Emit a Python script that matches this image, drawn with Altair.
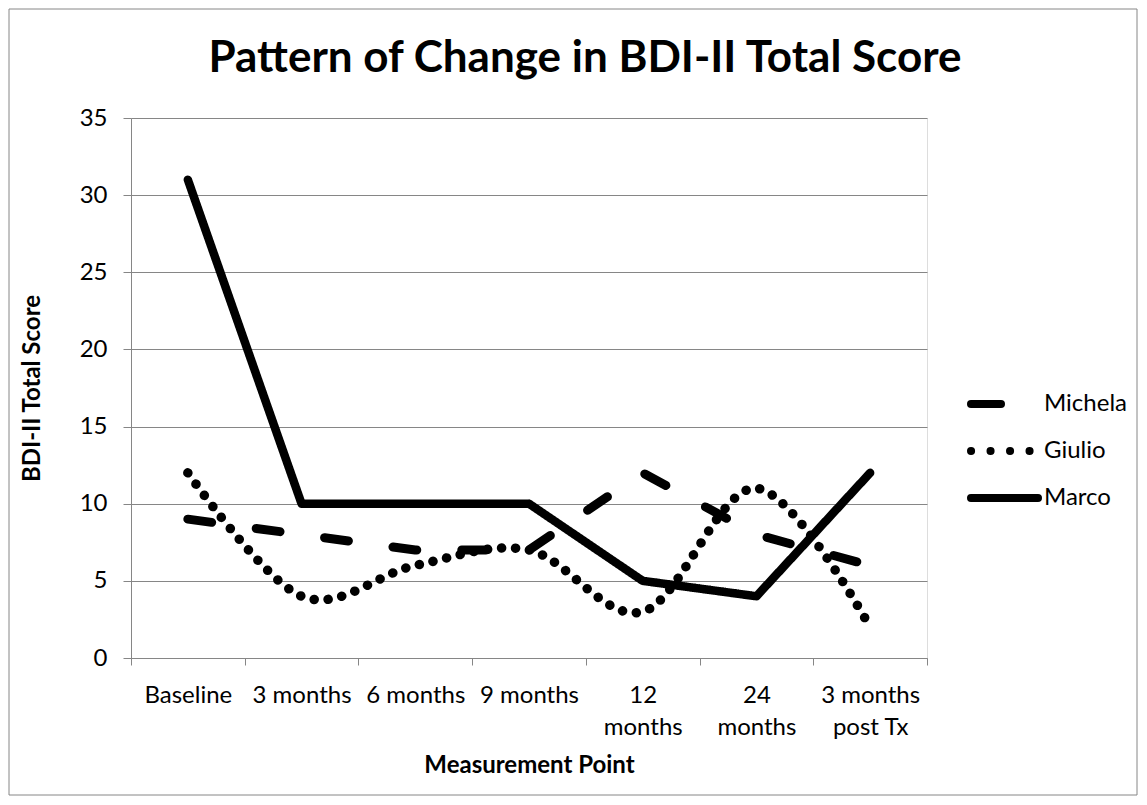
import altair as alt
import pandas as pd

categories = ["Baseline", "3 months", "6 months", "9 months", "12 months", "24 months", "3 months post Tx"]
michela = [9, 8, 7, 7, 12, 8, 6]
giulio = [12, 4, 6, 7, 3, 11, 2]
marco = [31, 10, 10, 10, 5, 4, 12]
series_names = ["Michela", "Giulio", "Marco"]
y_ticks = [0, 5, 10, 15, 20, 25, 30, 35]
label_lines = {"12 months": ["12", "months"], "24 months": ["24", "months"],
               "3 months post Tx": ["3 months", "post Tx"]}

rows = []
for name, vals in zip(series_names, [michela, giulio, marco]):
    for c, v in zip(categories, vals):
        rows.append({"point": c, "score": v, "series": name})
df = pd.DataFrame(rows)
leg_df = pd.DataFrame({"series": series_names})

W, H = 796, 540
FONT = "Lato"
GRAY = "#868686"

expr = "datum.value"
for k, v in reversed(list(label_lines.items())):
    arr = "[" + ",".join(f"'{s}'" for s in v) + "]"
    expr = f"datum.value == '{k}' ? {arr} : ({expr})"

dash_scale = alt.Scale(domain=series_names, range=[[24, 45], [0.1, 13.9], [1, 0]])
leg_dash_scale = alt.Scale(domain=series_names, range=[[30, 100], [0.1, 19.4], [1, 0]])

x_enc = alt.X(
    "point:N", sort=categories,
    scale=alt.Scale(type="band", domain=categories, paddingInner=0, paddingOuter=0),
    axis=alt.Axis(
        title="Measurement Point", labelAngle=0, labelExpr=expr, tickBand="extent",
        grid=False, domainColor=GRAY, tickColor=GRAY, tickSize=7,
        labelFont=FONT, labelFontSize=24, labelColor="black", labelPadding=18,
        labelLineHeight=32, labelBaseline="top",
        titleFont=FONT, titleFontSize=24, titleFontWeight="bold", titleColor="black",
        titleX=W / 2, titleY=107, titleBaseline="middle",
    ),
)

y_axis = alt.Axis(
    values=y_ticks, grid=True, gridColor=GRAY, domainColor=GRAY, tickColor=GRAY,
    tickSize=8, labelPadding=16, labelFont=FONT, labelFontSize=24, labelColor="black",
    title="BDI-II Total Score", titleFont=FONT, titleFontSize=24, titleFontWeight="bold",
    titleColor="black", titleX=-99, titleY=H / 2, titleBaseline="middle", titleAlign="center",
)


def y_enc(show):
    if show:
        return alt.Y("score:Q", scale=alt.Scale(domain=[0, 35], nice=False), axis=y_axis)
    return alt.Y("score:Q", scale=alt.Scale(domain=[0, 35], nice=False), axis=None)


base = alt.Chart(df)
line_michela = base.transform_filter(alt.datum.series == "Michela").mark_line(
    color="black", strokeWidth=9, strokeCap="round", strokeJoin="round"
).encode(x=x_enc, y=y_enc(True),
         strokeDash=alt.StrokeDash("series:N", scale=dash_scale, legend=None))
line_giulio = base.transform_filter(alt.datum.series == "Giulio").mark_line(
    color="black", strokeWidth=9.5, strokeCap="round", strokeJoin="round", interpolate="cardinal"
).encode(x=x_enc, y=y_enc(False),
         strokeDash=alt.StrokeDash("series:N", scale=dash_scale, legend=None))
line_marco = base.transform_filter(alt.datum.series == "Marco").mark_line(
    color="black", strokeWidth=8.5, strokeCap="round", strokeJoin="round"
).encode(x=x_enc, y=y_enc(False),
         strokeDash=alt.StrokeDash("series:N", scale=dash_scale, legend=None))

leg_y = alt.Y("series:N", scale=alt.Scale(type="point", domain=series_names,
                                          range=[286, 380], padding=0), axis=None)
leg_rule = alt.Chart(leg_df).mark_rule(color="black", strokeWidth=8, strokeCap="round").encode(
    x=alt.value(840), x2=alt.value(907), y=leg_y,
    strokeDash=alt.StrokeDash("series:N", scale=leg_dash_scale, legend=None),
)
leg_text = alt.Chart(leg_df).mark_text(
    align="left", baseline="middle", font=FONT, fontSize=24, color="black", dx=0
).encode(x=alt.value(913), y=leg_y, text="series:N")

border = alt.Chart(pd.DataFrame({"a": [0]})).mark_rect(
    fill="transparent", stroke=GRAY, strokeWidth=1
).encode(x=alt.value(-122), x2=alt.value(1006), y=alt.value(-109), y2=alt.value(677))

chart = alt.layer(
    border, line_michela, line_giulio, line_marco, leg_rule, leg_text
).resolve_scale(y="independent", strokeDash="independent").properties(
    width=W, height=H,
    autosize=alt.AutoSizeParams(type="none"),
    padding={"left": 123, "top": 110, "right": 212, "bottom": 139},
    title=alt.TitleParams(
        "Pattern of Change in BDI-II Total Score", font=FONT, fontSize=44,
        fontWeight="bold", anchor="middle", frame="group", dx=56, offset=-107,
        baseline="alphabetic", color="black",
    ),
).configure_view(strokeWidth=0).configure(background="white")

chart.save("out.html", embed_options={"renderer": "svg", "actions": False})
